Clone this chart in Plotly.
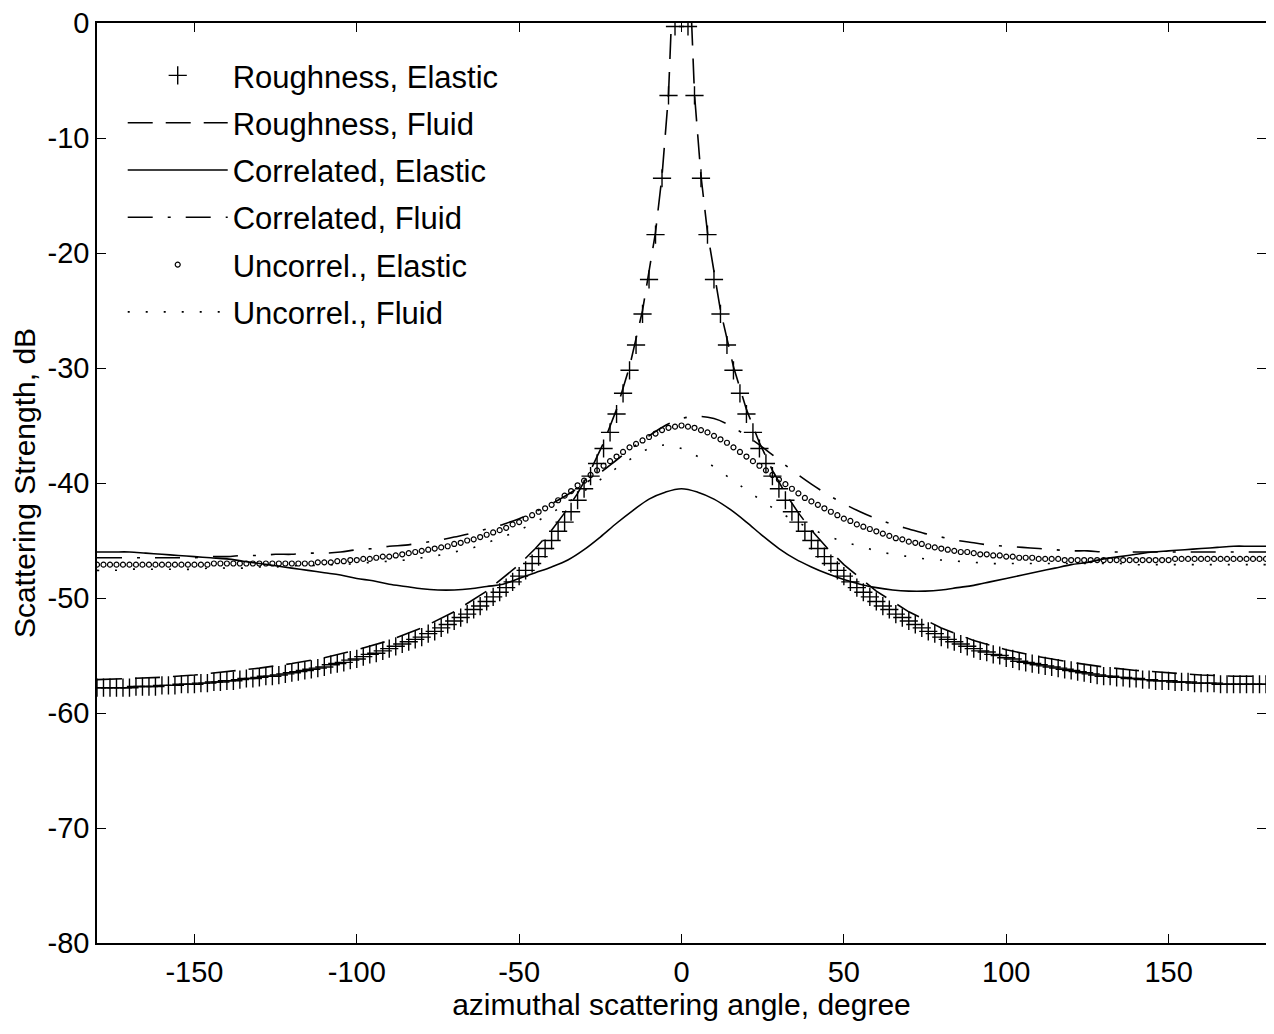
import plotly.graph_objects as go

# ---------------- data ----------------
ANGLE_FINE = list(range(-180, 182, 2))          # 2-degree grid (markers)
ANGLE_5 = list(range(-180, 185, 5))             # 5-degree grid (lines)
ANGLE_RF = [-180, -170, -160, -150, -140, -130, -120, -110, -100, -90, -80, -70, -60, -50, -45,
            -40, -36, -32, -28, -24, -20, -16, -12, -8, -6, -4, -2, 0,
            2, 4, 6, 8, 12, 16, 20, 24, 28, 32, 36, 40, 45, 50, 60, 70, 80, 90, 100,
            110, 120, 130, 140, 150, 160, 170, 180]

# Roughness, Elastic (plus markers), -180..180 step 2
RE_DB = [
    -57.8, -57.8, -57.8, -57.8, -57.8, -57.8, -57.7, -57.7, -57.7, -57.7,
    -57.6, -57.6, -57.6, -57.5, -57.5, -57.5, -57.4, -57.4, -57.3, -57.3,
    -57.2, -57.2, -57.1, -57.0, -57.0, -56.9, -56.8, -56.8, -56.7, -56.6,
    -56.5, -56.4, -56.3, -56.2, -56.1, -56.0, -55.8, -55.7, -55.6, -55.4,
    -55.3, -55.1, -54.9, -54.8, -54.6, -54.4, -54.2, -54.0, -53.8, -53.6,
    -53.4, -53.1, -52.9, -52.6, -52.3, -52.0, -51.7, -51.4, -51.0, -50.7,
    -50.3, -49.9, -49.5, -49.1, -48.6, -48.1, -47.6, -47.0, -46.4, -45.7,
    -45.0, -44.2, -43.4, -42.5, -41.5, -40.5, -39.4, -38.3, -37.0, -35.6,
    -34.0, -32.2, -30.2, -28.0, -25.3, -22.3, -18.4, -13.5, -6.3, -0.3,
    15.0,
    -0.3, -6.3, -13.5, -18.4, -22.3, -25.3, -28.0, -30.2, -32.2, -34.0,
    -35.6, -37.0, -38.3, -39.4, -40.5, -41.5, -42.5, -43.4, -44.2, -45.0,
    -45.7, -46.4, -47.0, -47.6, -48.1, -48.6, -49.1, -49.5, -49.9, -50.3,
    -50.7, -51.0, -51.4, -51.7, -52.0, -52.3, -52.6, -52.9, -53.1, -53.4,
    -53.6, -53.8, -54.0, -54.2, -54.4, -54.6, -54.7, -54.9, -55.0, -55.2,
    -55.3, -55.5, -55.6, -55.7, -55.8, -55.9, -56.0, -56.1, -56.2, -56.3,
    -56.4, -56.5, -56.6, -56.7, -56.8, -56.8, -56.9, -56.9, -57.0, -57.0,
    -57.1, -57.1, -57.2, -57.2, -57.2, -57.3, -57.3, -57.3, -57.4, -57.4,
    -57.4, -57.4, -57.5, -57.5, -57.5, -57.5, -57.5, -57.5, -57.5, -57.5,
]

# Uncorrel., Elastic (open circles), -180..180 step 2
UE_DB = [
    -47.1, -47.1, -47.1, -47.1, -47.1, -47.1, -47.1, -47.1, -47.1, -47.1,
    -47.1, -47.1, -47.1, -47.1, -47.1, -47.1, -47.1, -47.1, -47.0, -47.0,
    -47.0, -47.0, -47.0, -47.0, -47.0, -47.0, -47.0, -47.0, -47.0, -47.0,
    -47.0, -47.0, -47.0, -47.0, -46.9, -46.9, -46.9, -46.8, -46.8, -46.7,
    -46.7, -46.6, -46.6, -46.5, -46.4, -46.4, -46.3, -46.2, -46.1, -46.0,
    -45.9, -45.8, -45.7, -45.6, -45.5, -45.3, -45.2, -45.0, -44.9, -44.7,
    -44.5, -44.3, -44.1, -43.9, -43.6, -43.4, -43.1, -42.8, -42.5, -42.2,
    -41.9, -41.5, -41.1, -40.7, -40.2, -39.8, -39.3, -38.9, -38.5, -38.1,
    -37.7, -37.3, -36.9, -36.6, -36.3, -36.0, -35.7, -35.4, -35.2, -35.1,
    -35.0,
    -35.1, -35.2, -35.4, -35.6, -35.9, -36.2, -36.5, -36.9, -37.3, -37.7,
    -38.1, -38.5, -38.9, -39.3, -39.7, -40.1, -40.5, -40.9, -41.3, -41.6,
    -41.9, -42.2, -42.5, -42.8, -43.1, -43.3, -43.6, -43.8, -44.0, -44.2,
    -44.4, -44.6, -44.8, -44.9, -45.1, -45.2, -45.3, -45.5, -45.6, -45.7,
    -45.8, -45.9, -46.0, -46.0, -46.1, -46.2, -46.2, -46.3, -46.3, -46.4,
    -46.4, -46.5, -46.5, -46.5, -46.6, -46.6, -46.6, -46.6, -46.7, -46.7,
    -46.7, -46.7, -46.7, -46.7, -46.7, -46.7, -46.7, -46.7, -46.7, -46.7,
    -46.7, -46.7, -46.7, -46.7, -46.7, -46.6, -46.6, -46.6, -46.6, -46.6,
    -46.6, -46.6, -46.6, -46.6, -46.6, -46.6, -46.6, -46.6, -46.6, -46.6,
]

# Correlated, Elastic (solid), -180..180 step 5
CE_DB = [
    -46.0, -46.0, -46.0, -46.1, -46.2, -46.3, -46.4, -46.5, -46.6, -46.8,
    -47.0, -47.2, -47.4, -47.6, -47.8, -48.0, -48.3, -48.5, -48.8, -49.0,
    -49.2, -49.3, -49.3, -49.2, -49.0, -48.8, -48.3, -47.8, -47.3, -46.7,
    -45.8, -44.7, -43.5, -42.4, -41.4, -40.8,
    -40.5,
    -40.8, -41.4, -42.3, -43.4, -44.6, -45.7, -46.6, -47.3, -47.9, -48.4,
    -48.8, -49.1, -49.3, -49.4, -49.4, -49.3, -49.1, -48.9, -48.6, -48.3,
    -48.0, -47.7, -47.4, -47.1, -46.9, -46.6, -46.4, -46.2, -46.0, -45.9,
    -45.8, -45.7, -45.6, -45.5, -45.5, -45.5,
]

# Correlated, Fluid (dash-dot), -180..180 step 5
CF_DB = [
    -46.5, -46.5, -46.5, -46.5, -46.5, -46.5, -46.5, -46.4, -46.4, -46.3,
    -46.3, -46.2, -46.2, -46.1, -46.1, -46.0, -45.8, -45.7, -45.5, -45.4,
    -45.2, -45.0, -44.7, -44.4, -44.0, -43.6, -43.1, -42.5, -41.8, -41.0,
    -40.1, -39.1, -38.0, -36.9, -35.9, -35.0, -34.4,
    -34.2,
    -34.4, -35.0, -35.9, -36.9, -38.0, -39.1, -40.1, -41.0, -41.8, -42.5,
    -43.1, -43.6, -44.0, -44.4, -44.7, -45.0, -45.2, -45.4, -45.5, -45.6,
    -45.7, -45.8, -45.9, -45.9, -46.0, -46.0, -46.0, -46.0, -46.0, -46.0,
    -46.0, -46.0, -46.0, -46.0, -46.0,
]

# Uncorrel., Fluid (dotted), -180..180 step 5
UF_DB = [
    -47.6, -47.6, -47.5, -47.5, -47.5, -47.5, -47.5, -47.4, -47.4, -47.4,
    -47.3, -47.3, -47.2, -47.2, -47.1, -47.1, -47.0, -46.9, -46.8, -46.7,
    -46.5, -46.3, -46.0, -45.7, -45.2, -44.7, -44.1, -43.4, -42.6, -41.7,
    -40.7, -39.7, -38.7, -37.8, -37.0,
    -36.7,
    -37.0, -37.7, -38.6, -39.6, -40.6, -41.6, -42.5, -43.3, -44.0, -44.6,
    -45.1, -45.5, -45.9, -46.2, -46.4, -46.6, -46.7, -46.8, -46.9, -47.0,
    -47.0, -47.0, -47.0, -47.0, -47.0, -47.0, -47.0, -47.0, -47.1, -47.1,
    -47.1, -47.1, -47.1, -47.1, -47.1, -47.1, -47.1,
]

# Roughness, Fluid (dashed), on ANGLE_RF
RF_DB = [
    -57.1, -57.0, -56.9, -56.7, -56.4, -56.1, -55.7, -55.2, -54.5, -53.7,
    -52.6, -51.2, -49.4, -47.1, -45.7, -44.1, -42.6, -40.9, -38.9, -36.5,
    -33.6, -29.9, -25.0, -18.2, -13.3, -6.2, 8.0, 20.0,
    8.0, -6.2, -13.3, -18.2, -25.0, -29.9, -33.6, -36.5, -38.9, -40.9,
    -42.6, -44.1, -45.7, -47.1, -49.4, -51.2, -52.6, -53.7, -54.5, -55.1,
    -55.6, -56.0, -56.3, -56.5, -56.7, -56.8, -56.8,
]

X_TICKS = [-150, -100, -50, 0, 50, 100, 150]
X_TICKTEXT = ["-150", "-100", "-50", "0", "50", "100", "150"]
Y_TICKS = [0, -10, -20, -30, -40, -50, -60, -70, -80]
Y_TICKTEXT = ["0", "-10", "-20", "-30", "-40", "-50", "-60", "-70", "-80"]

NAMES = ["Roughness, Elastic", "Roughness, Fluid", "Correlated, Elastic",
         "Correlated, Fluid", "Uncorrel., Elastic", "Uncorrel., Fluid"]

assert len(RE_DB) == len(ANGLE_FINE), len(RE_DB)
assert len(UE_DB) == len(ANGLE_FINE), len(UE_DB)
assert len(CE_DB) == len(ANGLE_5), len(CE_DB)
assert len(CF_DB) == len(ANGLE_5), len(CF_DB)
assert len(UF_DB) == len(ANGLE_5), len(UF_DB)
assert len(RF_DB) == len(ANGLE_RF), len(RF_DB)

FONT = "Liberation Sans, Arial, Helvetica, sans-serif"
FS_TICK = 29
FS_TITLE = 30
FS_LEG = 31
LW = 1.6

fig = go.Figure()
fig.add_trace(go.Scatter(
    x=ANGLE_FINE, y=RE_DB, name=NAMES[0], mode="markers", legendgroup="a",
    marker=dict(symbol="cross-thin", size=13, color="black",
                line=dict(color="black", width=1.4))))
fig.add_trace(go.Scatter(
    x=ANGLE_RF, y=RF_DB, name=NAMES[1], mode="lines", legendgroup="b",
    line=dict(color="black", width=LW, dash="25px,13px")))
fig.add_trace(go.Scatter(
    x=ANGLE_5, y=CE_DB, name=NAMES[2], mode="lines", legendgroup="c",
    line=dict(color="black", width=LW, shape="spline")))
fig.add_trace(go.Scatter(
    x=ANGLE_5, y=CF_DB, name=NAMES[3], mode="lines", legendgroup="d",
    line=dict(color="black", width=LW, dash="25px,15px,3px,15px", shape="spline")))
fig.add_trace(go.Scatter(
    x=ANGLE_FINE, y=UE_DB, name=NAMES[4], mode="markers", legendgroup="e",
    marker=dict(symbol="circle-open", size=5, color="black",
                line=dict(color="black", width=1.2))))
fig.add_trace(go.Scatter(
    x=ANGLE_5, y=UF_DB, name=NAMES[5], mode="lines", legendgroup="f",
    line=dict(color="black", width=LW, dash="2px,16px", shape="spline")))

axis_common = dict(
    showline=True, linecolor="black", linewidth=1.6, mirror="ticks",
    ticks="inside", ticklen=9, tickwidth=1.3, tickcolor="black",
    showgrid=False, zeroline=False, automargin=False,
    ticklabeloverflow="allow",
    tickfont=dict(family=FONT, size=FS_TICK, color="black"),
)

fig.update_xaxes(range=[-180, 180], tickmode="array", tickvals=X_TICKS,
                 ticktext=X_TICKTEXT, ticklabelstandoff=2,
                 title=dict(text="azimuthal scattering angle, degree",
                            font=dict(family=FONT, size=FS_TITLE, color="black"),
                            standoff=2),
                 **axis_common)
fig.update_yaxes(range=[-80, 0], tickmode="array", tickvals=Y_TICKS,
                 ticktext=Y_TICKTEXT,
                 title=dict(text="Scattering Strength, dB",
                            font=dict(family=FONT, size=FS_TITLE, color="black"),
                            standoff=6),
                 **axis_common)

# The page body has an 8px margin, so the figure is sized to sit inside the window.
fig.update_layout(
    width=1259, height=1018,
    margin=dict(l=89, r=1, t=15, b=83),
    paper_bgcolor="white", plot_bgcolor="white",
    font=dict(family=FONT, color="black"),
    legend=dict(x=0.022, y=0.972, xanchor="left", yanchor="top",
                bgcolor="rgba(0,0,0,0)", borderwidth=0,
                font=dict(family=FONT, size=FS_LEG, color="black"),
                itemwidth=100, tracegroupgap=4, traceorder="grouped"),
    showlegend=True,
)

fig.write_html("out.html")
